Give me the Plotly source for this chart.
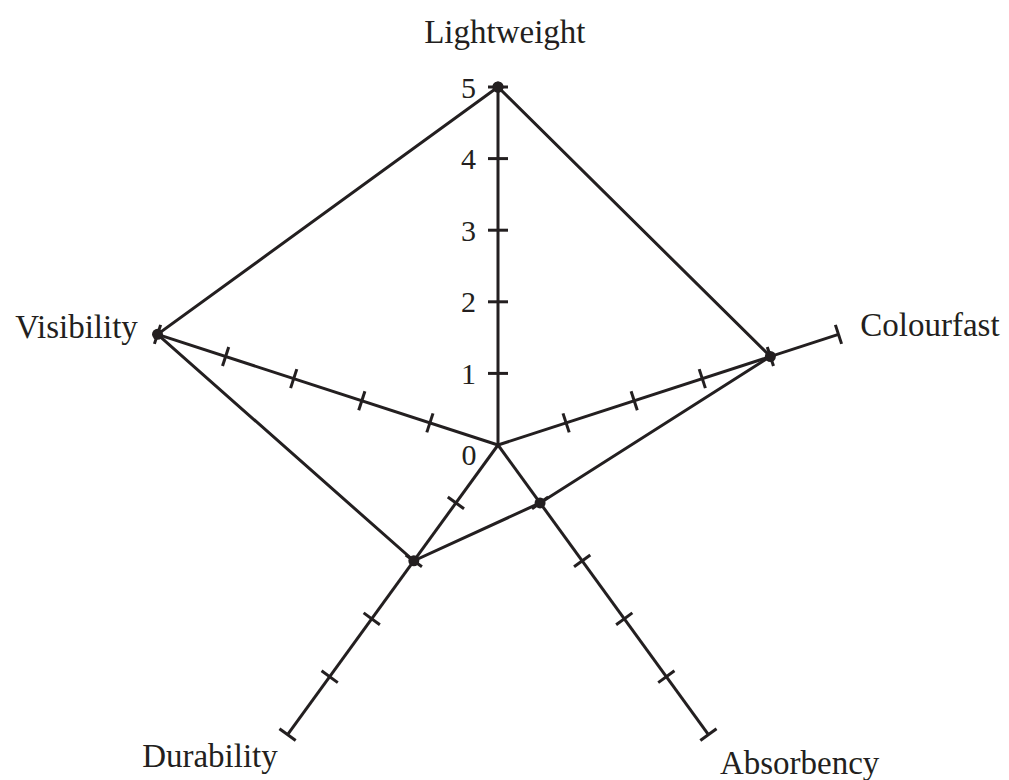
import math
import plotly.graph_objects as go

# star chart: fabric properties scored 0-5
axes = ['Lightweight', 'Colourfast', 'Absorbency', 'Durability', 'Visibility']
scores = [5, 4, 1, 2, 5]
tick_values = [1, 2, 3, 4, 5]
axis_max = 5

INK = '#231f20'
FONT = 'Liberation Serif'

# one spoke every 72 degrees, going clockwise from the top
angles = [90 - 72 * i for i in range(len(axes))]


def to_xy(r, deg):
    a = math.radians(deg)
    return r * math.cos(a), r * math.sin(a)


fig = go.Figure()

# spokes
sx, sy = [], []
for a in angles:
    x, y = to_xy(axis_max, a)
    sx += [0, x, None]
    sy += [0, y, None]
fig.add_trace(go.Scatter(x=sx, y=sy, mode='lines', line=dict(color=INK, width=3),
                         hoverinfo='skip'))

# little cross ticks on every spoke (perpendicular to the spoke)
half = 0.14
cx, cy = [], []
for a in angles:
    px, py = to_xy(half, a + 90)
    for v in tick_values:
        x, y = to_xy(v, a)
        cx += [x - px, x + px, None]
        cy += [y - py, y + py, None]
fig.add_trace(go.Scatter(x=cx, y=cy, mode='lines', line=dict(color=INK, width=3),
                         hoverinfo='skip'))

# the scores
pts = [to_xy(s, a) for s, a in zip(scores, angles)]
pts.append(pts[0])
fig.add_trace(go.Scatter(x=[p[0] for p in pts], y=[p[1] for p in pts],
                         mode='lines+markers',
                         line=dict(color=INK, width=3),
                         marker=dict(color=INK, size=11),
                         cliponaxis=False))

# axis names
label_r = [5.5, 5.32, 5.26, 5.17, 5.28]
label_shift = [-1, 0, 0.1, -0.5, 0.3]
label_pos = ['top center', 'middle right', 'bottom right', 'bottom left', 'middle left']
lab = [to_xy(r, a + s) for r, a, s in zip(label_r, angles, label_shift)]
fig.add_trace(go.Scatter(x=[p[0] for p in lab], y=[p[1] for p in lab],
                         mode='text', text=axes, textposition=label_pos,
                         textfont=dict(family=FONT, size=33, color=INK),
                         cliponaxis=False, hoverinfo='skip'))

# the zero sits just below the centre
zx, zy = to_xy(0.44, -157.5)
fig.add_trace(go.Scatter(x=[zx], y=[zy], mode='text', text=['0'],
                         textposition='middle center',
                         textfont=dict(family=FONT, size=30, color=INK),
                         cliponaxis=False, hoverinfo='skip'))

# 71.6 px per unit; the page body adds an 8px margin, so the centre of the
# star goes at (490, 437) inside the figure
W, H = 1009, 780
unit = 71.6
cx0, cy0 = 490, 437
x_range = [-cx0 / unit, (W - cx0) / unit]
y_range = [-(H - cy0) / unit, cy0 / unit]

fig.update_layout(
    width=W, height=H,
    margin=dict(l=0, r=0, t=0, b=0),
    showlegend=False,
    paper_bgcolor='white', plot_bgcolor='white',
    xaxis=dict(range=x_range, visible=False),
    yaxis=dict(range=y_range, anchor='free',
               position=(0 - x_range[0]) / (x_range[1] - x_range[0]),
               tickvals=tick_values, ticks='', ticklabelstandoff=22,
               tickfont=dict(family=FONT, size=30, color=INK),
               showline=False, showgrid=False, zeroline=False),
)

fig.write_html("out.html")
